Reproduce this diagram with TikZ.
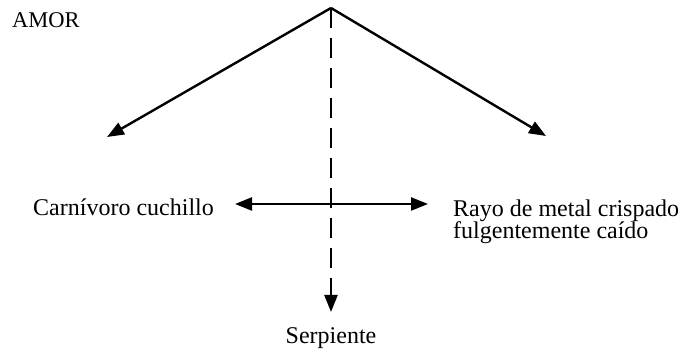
\documentclass[tikz,border=0pt]{standalone}
\usepackage{fontspec}
\setmainfont{Liberation Serif}
\usetikzlibrary{arrows.meta}
\begin{document}
\begin{tikzpicture}[x=1pt,y=1pt,
  lbl/.style={inner sep=0pt, font=\fontsize{24}{22.5}\selectfont},
  conn/.style={line width=2.4pt, -{Triangle[length=17pt,width=13pt]}},
  dconn/.style={conn, dash pattern=on 20pt off 10pt}]
\useasboundingbox (0,0) rectangle (680,352);
\coordinate (apex) at (331,344);
\coordinate (lt) at (107,215);
\coordinate (rt) at (546,216);
\coordinate (st) at (331,40);
\coordinate (hl) at (235,148);
\coordinate (hr) at (428,148);
\node[lbl, anchor=base west, font=\fontsize{22.5}{24}\selectfont] (amor) at (12,324) {AMOR};
\node[lbl, anchor=base west] (carn) at (33,136) {Carnívoro cuchillo};
\node[lbl, anchor=north west, align=left] (rayo) at (453,152.5) {Rayo de metal crispado\\fulgentemente caído};
\node[lbl, anchor=base] (serp) at (331,8) {Serpiente};
\draw[conn] (apex) -- (lt);
\draw[conn] (apex) -- (rt);
\draw[dconn] (apex) -- (st);
\draw[line width=2.4pt, {Triangle[length=17pt,width=13pt]}-{Triangle[length=17pt,width=13pt]}] (hl) -- (hr);
\end{tikzpicture}
\end{document}
